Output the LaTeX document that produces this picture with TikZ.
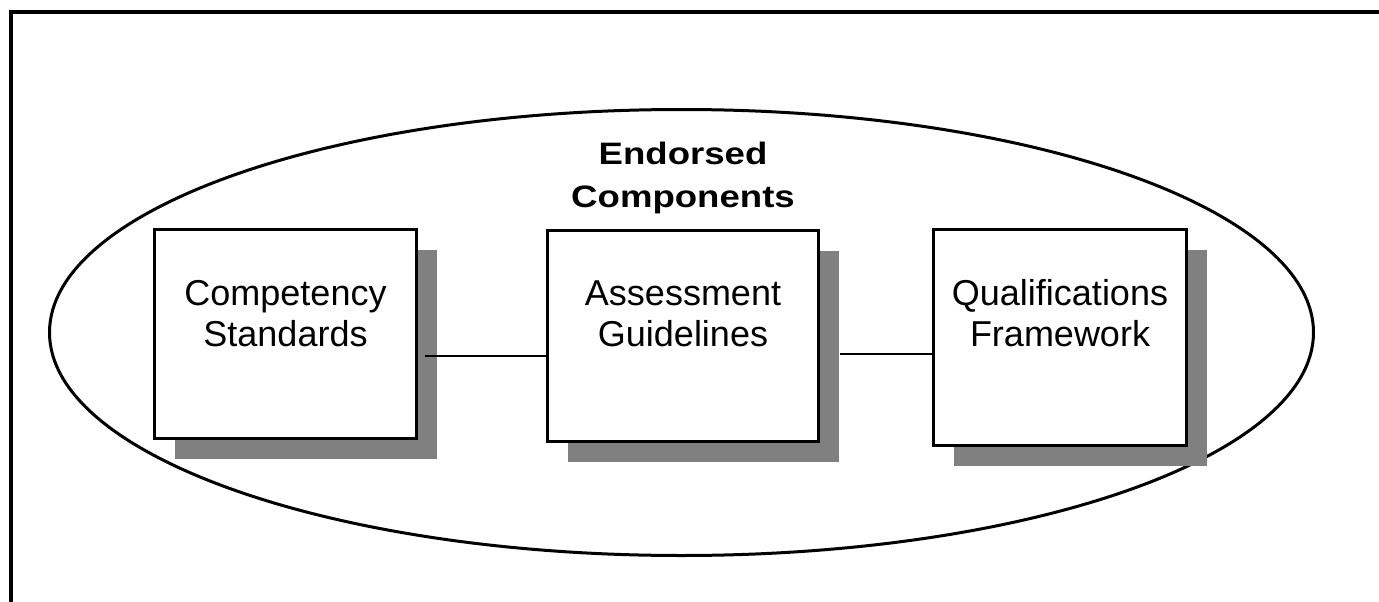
\documentclass[tikz,border=0pt]{standalone}
\usepackage{fontspec}
\setmainfont{Liberation Sans}
\newfontfamily\headfont[FakeStretch=1.18]{Liberation Sans}
\usepackage{tikz}
\usetikzlibrary{positioning,shadows}

\begin{document}
\begin{tikzpicture}[x=1pt,y=-1pt,
  box/.style={draw,line width=3.2pt,fill=white,
    drop shadow={shadow xshift=20pt,shadow yshift=-20pt,fill=black!50,opacity=1}},
  boxtext/.style={inner sep=0pt,align=center,font=\fontsize{36}{41}\selectfont},
  link/.style={line width=2.6pt}]
\useasboundingbox (0,0) rectangle (1379,602);
\draw[line width=3.5pt] (11,602) -- (11,12) -- (1379,12);
\draw[line width=3pt] (681.5,332.5) ellipse [x radius=632pt, y radius=223pt];
  \node[box,minimum width=262pt,minimum height=209pt] (comp) at (285.5,334) {};
  \node[box,minimum width=271pt,minimum height=211pt] (assess) at (683,336) {};
  \node[box,minimum width=253pt,minimum height=216pt] (qual) at (1060,337.5) {};
  \node[boxtext,below=52pt of comp.north] (compText) {Competency\\Standards};
  \node[boxtext,below=52pt of assess.north] (assessText) {Assessment\\Guidelines};
  \node[boxtext,below=51pt of qual.north] (qualText) {Qualifications\\Framework};
  \node[inner sep=0pt,align=center,font=\headfont\bfseries\fontsize{31}{43}\selectfont,
    above=15pt of assess.north] (title) {Endorsed\\Components};
  \draw[link] ([shift={(7,22)}]comp.east) -- ([shift={(0,20)}]assess.west);
  \draw[link] ([shift={(20,18)}]assess.east) -- ([shift={(0,16.5)}]qual.west);
\end{tikzpicture}
\end{document}
